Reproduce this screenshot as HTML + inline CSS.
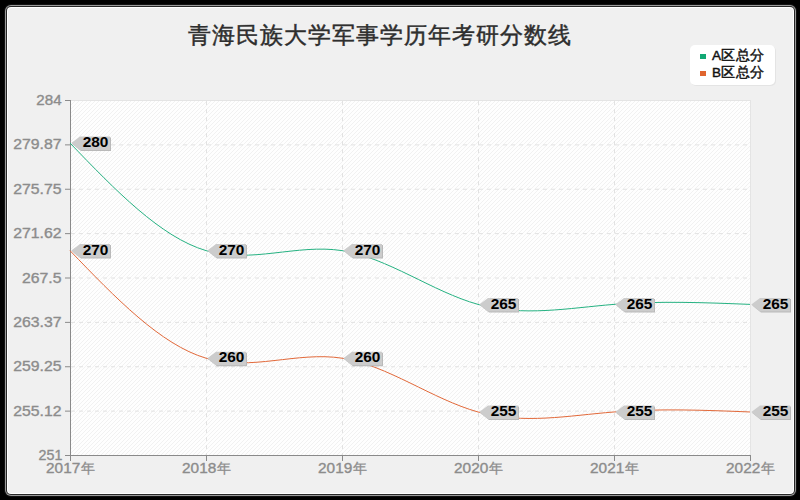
<!DOCTYPE html>
<html><head><meta charset="utf-8"><style>
html,body{margin:0;padding:0;background:#000;width:800px;height:500px;overflow:hidden}
svg{display:block}
text{font-family:"Liberation Sans", sans-serif}
</style></head><body>
<svg width="800" height="500" viewBox="0 0 800 500">
<defs>
<pattern id="hatch" patternUnits="userSpaceOnUse" x="0" y="0" width="4" height="4">
<rect width="4" height="4" fill="#fefefe"/>
<rect x="0" y="3" width="1" height="1" fill="#f1f1f1"/>
<rect x="1" y="2" width="1" height="1" fill="#f1f1f1"/>
<rect x="2" y="1" width="1" height="1" fill="#f1f1f1"/>
<rect x="3" y="0" width="1" height="1" fill="#f1f1f1"/>
</pattern>
</defs>
<rect x="0" y="0" width="800" height="500" fill="#000"/>
<rect x="4" y="4" width="793" height="493" rx="7" ry="7" fill="#111"/>
<rect x="5" y="5" width="791" height="491" rx="6" ry="6" fill="#9a9a9a"/>
<rect x="6" y="6" width="789" height="489" rx="5" ry="5" fill="#262626"/>
<rect x="7" y="7" width="787" height="487" rx="4" ry="4" fill="#ffffff"/>
<rect x="8" y="8" width="785" height="485" rx="3" ry="3" fill="#f0f0f0"/>
<text x="380" y="42.6" font-size="23" letter-spacing="1" fill="#2e2e2e" stroke="#2e2e2e" stroke-width="0.45" text-anchor="middle">青海民族大学军事学历年考研分数线</text>

<rect x="691" y="46" width="85" height="40" rx="5" ry="5" fill="#e4e4e4"/>
<rect x="690" y="45" width="85" height="40" rx="5" ry="5" fill="#fff"/>
<rect x="700" y="54" width="6" height="5" fill="#12a874"/>
<rect x="700" y="71" width="6" height="5" fill="#e0652f"/>
<text x="712" y="60" font-size="13.5" letter-spacing="0.4" fill="#111" stroke="#111" stroke-width="0.45">A区总分</text>
<text x="712" y="77" font-size="13.5" letter-spacing="0.4" fill="#111" stroke="#111" stroke-width="0.45">B区总分</text>
<rect x="71" y="100" width="679" height="355" fill="url(#hatch)"/>
<line x1="71" y1="100.5" x2="750" y2="100.5" stroke="#e4e4e4"/>
<line x1="750.5" y1="100" x2="750.5" y2="455" stroke="#e4e4e4"/>
<line x1="65" y1="100.5" x2="70" y2="100.5" stroke="#8a8a8a"/>
<text transform="translate(61.6,105.0) scale(1.08,1)" x="0" y="0" font-size="14" fill="#8c8c8c" stroke="#8c8c8c" stroke-width="0.35" text-anchor="end">284</text>
<line x1="71" y1="144.875" x2="750" y2="144.875" stroke="#e2e2e2" stroke-dasharray="4,4"/>
<line x1="65" y1="144.875" x2="70" y2="144.875" stroke="#8a8a8a"/>
<text transform="translate(61.5,149.375) scale(1.13,1)" x="0" y="0" font-size="14" fill="#8c8c8c" stroke="#8c8c8c" stroke-width="0.35" text-anchor="end">279.87</text>
<line x1="71" y1="189.25" x2="750" y2="189.25" stroke="#e2e2e2" stroke-dasharray="4,4"/>
<line x1="65" y1="189.25" x2="70" y2="189.25" stroke="#8a8a8a"/>
<text transform="translate(61.5,193.75) scale(1.13,1)" x="0" y="0" font-size="14" fill="#8c8c8c" stroke="#8c8c8c" stroke-width="0.35" text-anchor="end">275.75</text>
<line x1="71" y1="233.625" x2="750" y2="233.625" stroke="#e2e2e2" stroke-dasharray="4,4"/>
<line x1="65" y1="233.625" x2="70" y2="233.625" stroke="#8a8a8a"/>
<text transform="translate(61.5,238.125) scale(1.13,1)" x="0" y="0" font-size="14" fill="#8c8c8c" stroke="#8c8c8c" stroke-width="0.35" text-anchor="end">271.62</text>
<line x1="71" y1="278.0" x2="750" y2="278.0" stroke="#e2e2e2" stroke-dasharray="4,4"/>
<line x1="65" y1="278.0" x2="70" y2="278.0" stroke="#8a8a8a"/>
<text transform="translate(61.5,282.5) scale(1.13,1)" x="0" y="0" font-size="14" fill="#8c8c8c" stroke="#8c8c8c" stroke-width="0.35" text-anchor="end">267.5</text>
<line x1="71" y1="322.375" x2="750" y2="322.375" stroke="#e2e2e2" stroke-dasharray="4,4"/>
<line x1="65" y1="322.375" x2="70" y2="322.375" stroke="#8a8a8a"/>
<text transform="translate(61.5,326.875) scale(1.13,1)" x="0" y="0" font-size="14" fill="#8c8c8c" stroke="#8c8c8c" stroke-width="0.35" text-anchor="end">263.37</text>
<line x1="71" y1="366.75" x2="750" y2="366.75" stroke="#e2e2e2" stroke-dasharray="4,4"/>
<line x1="65" y1="366.75" x2="70" y2="366.75" stroke="#8a8a8a"/>
<text transform="translate(61.5,371.25) scale(1.13,1)" x="0" y="0" font-size="14" fill="#8c8c8c" stroke="#8c8c8c" stroke-width="0.35" text-anchor="end">259.25</text>
<line x1="71" y1="411.125" x2="750" y2="411.125" stroke="#e2e2e2" stroke-dasharray="4,4"/>
<line x1="65" y1="411.125" x2="70" y2="411.125" stroke="#8a8a8a"/>
<text transform="translate(61.5,415.625) scale(1.13,1)" x="0" y="0" font-size="14" fill="#8c8c8c" stroke="#8c8c8c" stroke-width="0.35" text-anchor="end">255.12</text>
<line x1="65" y1="455.5" x2="70" y2="455.5" stroke="#8a8a8a"/>
<text transform="translate(62.4,460.0) scale(1.02,1)" x="0" y="0" font-size="14" fill="#8c8c8c" stroke="#8c8c8c" stroke-width="0.35" text-anchor="end">251</text>
<line x1="70.5" y1="455" x2="70.5" y2="461" stroke="#8a8a8a"/>
<text transform="translate(80.3,473) scale(1.1,1)" x="0" y="0" font-size="14" fill="#8c8c8c" stroke="#8c8c8c" stroke-width="0.35" text-anchor="end">2017</text>
<text x="81.3" y="472.6" font-size="13.6" fill="#8c8c8c" stroke="#8c8c8c" stroke-width="0.3">年</text>
<line x1="206.5" y1="101" x2="206.5" y2="455" stroke="#e2e2e2" stroke-dasharray="4,4"/>
<line x1="206.5" y1="455" x2="206.5" y2="461" stroke="#8a8a8a"/>
<text transform="translate(216.3,473) scale(1.1,1)" x="0" y="0" font-size="14" fill="#8c8c8c" stroke="#8c8c8c" stroke-width="0.35" text-anchor="end">2018</text>
<text x="217.3" y="472.6" font-size="13.6" fill="#8c8c8c" stroke="#8c8c8c" stroke-width="0.3">年</text>
<line x1="342.5" y1="101" x2="342.5" y2="455" stroke="#e2e2e2" stroke-dasharray="4,4"/>
<line x1="342.5" y1="455" x2="342.5" y2="461" stroke="#8a8a8a"/>
<text transform="translate(352.3,473) scale(1.1,1)" x="0" y="0" font-size="14" fill="#8c8c8c" stroke="#8c8c8c" stroke-width="0.35" text-anchor="end">2019</text>
<text x="353.3" y="472.6" font-size="13.6" fill="#8c8c8c" stroke="#8c8c8c" stroke-width="0.3">年</text>
<line x1="478.5" y1="101" x2="478.5" y2="455" stroke="#e2e2e2" stroke-dasharray="4,4"/>
<line x1="478.5" y1="455" x2="478.5" y2="461" stroke="#8a8a8a"/>
<text transform="translate(488.3,473) scale(1.1,1)" x="0" y="0" font-size="14" fill="#8c8c8c" stroke="#8c8c8c" stroke-width="0.35" text-anchor="end">2020</text>
<text x="489.3" y="472.6" font-size="13.6" fill="#8c8c8c" stroke="#8c8c8c" stroke-width="0.3">年</text>
<line x1="614.5" y1="101" x2="614.5" y2="455" stroke="#e2e2e2" stroke-dasharray="4,4"/>
<line x1="614.5" y1="455" x2="614.5" y2="461" stroke="#8a8a8a"/>
<text transform="translate(624.3,473) scale(1.1,1)" x="0" y="0" font-size="14" fill="#8c8c8c" stroke="#8c8c8c" stroke-width="0.35" text-anchor="end">2021</text>
<text x="625.3" y="472.6" font-size="13.6" fill="#8c8c8c" stroke="#8c8c8c" stroke-width="0.3">年</text>
<line x1="750.5" y1="455" x2="750.5" y2="461" stroke="#8a8a8a"/>
<text transform="translate(760.3,473) scale(1.1,1)" x="0" y="0" font-size="14" fill="#8c8c8c" stroke="#8c8c8c" stroke-width="0.35" text-anchor="end">2022</text>
<text x="761.3" y="472.6" font-size="13.6" fill="#8c8c8c" stroke="#8c8c8c" stroke-width="0.3">年</text>
<line x1="70.5" y1="100" x2="70.5" y2="456" stroke="#8a8a8a"/>
<line x1="65" y1="455.5" x2="750" y2="455.5" stroke="#8a8a8a"/>
<path d="M70.00,143.03 C115.33,190.13 160.67,237.22 206.00,250.61 C251.33,263.99 296.67,243.66 342.00,250.61 C387.33,257.55 432.67,291.78 478.00,304.39 C523.33,317.00 568.67,308.00 614.00,304.39 C659.33,300.79 704.67,302.59 750.00,304.39" fill="none" stroke="#26b282" stroke-width="1"/>
<path d="M70.00,250.61 C115.33,297.70 160.67,344.80 206.00,358.18 C251.33,371.56 296.67,351.23 342.00,358.18 C387.33,365.13 432.67,399.36 478.00,411.97 C523.33,424.58 568.67,415.57 614.00,411.97 C659.33,408.37 704.67,410.17 750.00,411.97" fill="none" stroke="#e2693a" stroke-width="1"/>
<path d="M72.3,144.03030303030303 L81,137.53030303030303 L111,137.53030303030303 L111,151.03030303030303 L81,151.03030303030303 Z" fill="#b9b9b9"/>
<path d="M71.3,143.03030303030303 L80,136.53030303030303 L110,136.53030303030303 L110,150.03030303030303 L80,150.03030303030303 Z" fill="#cccccc"/>
<text transform="translate(95.5,147.23030303030302) scale(1.1,1)" x="0" y="0" font-size="14" font-weight="bold" fill="#000" text-anchor="middle">280</text>
<path d="M208.3,251.6060606060606 L217,245.1060606060606 L247,245.1060606060606 L247,258.6060606060606 L217,258.6060606060606 Z" fill="#b9b9b9"/>
<path d="M207.3,250.6060606060606 L216,244.1060606060606 L246,244.1060606060606 L246,257.6060606060606 L216,257.6060606060606 Z" fill="#cccccc"/>
<text transform="translate(231.5,254.80606060606058) scale(1.1,1)" x="0" y="0" font-size="14" font-weight="bold" fill="#000" text-anchor="middle">270</text>
<path d="M344.3,251.6060606060606 L353,245.1060606060606 L383,245.1060606060606 L383,258.6060606060606 L353,258.6060606060606 Z" fill="#b9b9b9"/>
<path d="M343.3,250.6060606060606 L352,244.1060606060606 L382,244.1060606060606 L382,257.6060606060606 L352,257.6060606060606 Z" fill="#cccccc"/>
<text transform="translate(367.5,254.80606060606058) scale(1.1,1)" x="0" y="0" font-size="14" font-weight="bold" fill="#000" text-anchor="middle">270</text>
<path d="M480.3,305.3939393939394 L489,298.8939393939394 L519,298.8939393939394 L519,312.3939393939394 L489,312.3939393939394 Z" fill="#b9b9b9"/>
<path d="M479.3,304.3939393939394 L488,297.8939393939394 L518,297.8939393939394 L518,311.3939393939394 L488,311.3939393939394 Z" fill="#cccccc"/>
<text transform="translate(503.5,308.59393939393937) scale(1.1,1)" x="0" y="0" font-size="14" font-weight="bold" fill="#000" text-anchor="middle">265</text>
<path d="M616.3,305.3939393939394 L625,298.8939393939394 L655,298.8939393939394 L655,312.3939393939394 L625,312.3939393939394 Z" fill="#b9b9b9"/>
<path d="M615.3,304.3939393939394 L624,297.8939393939394 L654,297.8939393939394 L654,311.3939393939394 L624,311.3939393939394 Z" fill="#cccccc"/>
<text transform="translate(639.5,308.59393939393937) scale(1.1,1)" x="0" y="0" font-size="14" font-weight="bold" fill="#000" text-anchor="middle">265</text>
<path d="M752.3,305.3939393939394 L761,298.8939393939394 L791,298.8939393939394 L791,312.3939393939394 L761,312.3939393939394 Z" fill="#b9b9b9"/>
<path d="M751.3,304.3939393939394 L760,297.8939393939394 L790,297.8939393939394 L790,311.3939393939394 L760,311.3939393939394 Z" fill="#cccccc"/>
<text transform="translate(775.5,308.59393939393937) scale(1.1,1)" x="0" y="0" font-size="14" font-weight="bold" fill="#000" text-anchor="middle">265</text>
<path d="M72.3,251.6060606060606 L81,245.1060606060606 L111,245.1060606060606 L111,258.6060606060606 L81,258.6060606060606 Z" fill="#b9b9b9"/>
<path d="M71.3,250.6060606060606 L80,244.1060606060606 L110,244.1060606060606 L110,257.6060606060606 L80,257.6060606060606 Z" fill="#cccccc"/>
<text transform="translate(95.5,254.80606060606058) scale(1.1,1)" x="0" y="0" font-size="14" font-weight="bold" fill="#000" text-anchor="middle">270</text>
<path d="M208.3,359.1818181818182 L217,352.6818181818182 L247,352.6818181818182 L247,366.1818181818182 L217,366.1818181818182 Z" fill="#b9b9b9"/>
<path d="M207.3,358.1818181818182 L216,351.6818181818182 L246,351.6818181818182 L246,365.1818181818182 L216,365.1818181818182 Z" fill="#cccccc"/>
<text transform="translate(231.5,362.3818181818182) scale(1.1,1)" x="0" y="0" font-size="14" font-weight="bold" fill="#000" text-anchor="middle">260</text>
<path d="M344.3,359.1818181818182 L353,352.6818181818182 L383,352.6818181818182 L383,366.1818181818182 L353,366.1818181818182 Z" fill="#b9b9b9"/>
<path d="M343.3,358.1818181818182 L352,351.6818181818182 L382,351.6818181818182 L382,365.1818181818182 L352,365.1818181818182 Z" fill="#cccccc"/>
<text transform="translate(367.5,362.3818181818182) scale(1.1,1)" x="0" y="0" font-size="14" font-weight="bold" fill="#000" text-anchor="middle">260</text>
<path d="M480.3,412.969696969697 L489,406.469696969697 L519,406.469696969697 L519,419.969696969697 L489,419.969696969697 Z" fill="#b9b9b9"/>
<path d="M479.3,411.969696969697 L488,405.469696969697 L518,405.469696969697 L518,418.969696969697 L488,418.969696969697 Z" fill="#cccccc"/>
<text transform="translate(503.5,416.169696969697) scale(1.1,1)" x="0" y="0" font-size="14" font-weight="bold" fill="#000" text-anchor="middle">255</text>
<path d="M616.3,412.969696969697 L625,406.469696969697 L655,406.469696969697 L655,419.969696969697 L625,419.969696969697 Z" fill="#b9b9b9"/>
<path d="M615.3,411.969696969697 L624,405.469696969697 L654,405.469696969697 L654,418.969696969697 L624,418.969696969697 Z" fill="#cccccc"/>
<text transform="translate(639.5,416.169696969697) scale(1.1,1)" x="0" y="0" font-size="14" font-weight="bold" fill="#000" text-anchor="middle">255</text>
<path d="M752.3,412.969696969697 L761,406.469696969697 L791,406.469696969697 L791,419.969696969697 L761,419.969696969697 Z" fill="#b9b9b9"/>
<path d="M751.3,411.969696969697 L760,405.469696969697 L790,405.469696969697 L790,418.969696969697 L760,418.969696969697 Z" fill="#cccccc"/>
<text transform="translate(775.5,416.169696969697) scale(1.1,1)" x="0" y="0" font-size="14" font-weight="bold" fill="#000" text-anchor="middle">255</text>
</svg></body></html>
